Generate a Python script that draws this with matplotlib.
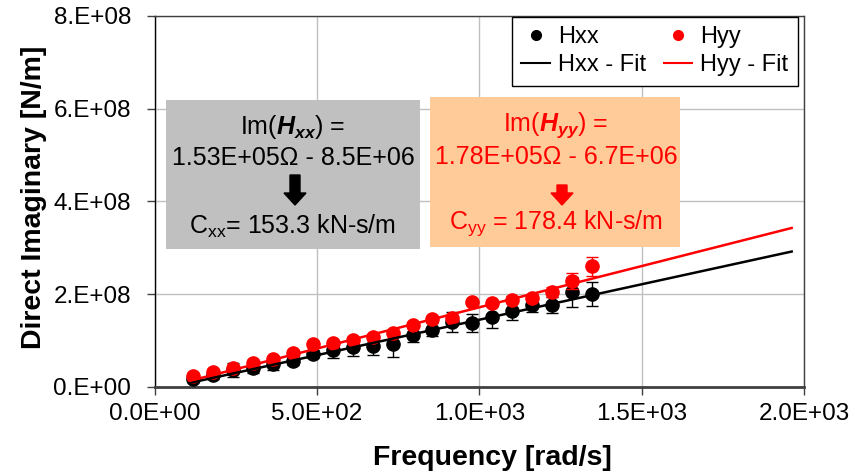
import matplotlib
matplotlib.use('Agg')
import matplotlib.pyplot as plt
from matplotlib.patches import Rectangle, FancyArrow
from matplotlib.ticker import FuncFormatter, MultipleLocator
import numpy as np

plt.rcParams['font.family'] = ['Liberation Sans', 'DejaVu Sans']
plt.rcParams['mathtext.fontset'] = 'custom'
plt.rcParams['mathtext.rm'] = 'Liberation Sans'
plt.rcParams['mathtext.it'] = 'Liberation Sans:italic'
plt.rcParams['mathtext.bf'] = 'Liberation Sans:bold'
plt.rcParams['mathtext.bfit'] = 'Liberation Sans:italic:bold'

# measured frequencies [rad/s]
freq = [120, 181, 243, 304, 365, 427, 488, 549, 611, 672, 733,
        795, 856, 917, 979, 1040, 1101, 1163, 1224, 1285, 1347]

# direct imaginary parts [N/m]
hxx = [1.60e7, 2.52e7, 3.60e7, 4.03e7, 4.90e7, 5.54e7, 7.05e7, 7.92e7, 8.46e7, 8.78e7, 9.21e7,
       1.115e8, 1.234e8, 1.39e8, 1.37e8, 1.51e8, 1.633e8, 1.763e8, 1.763e8, 2.043e8, 2.00e8]
hyy = [2.31e7, 3.24e7, 4.10e7, 5.11e7, 5.98e7, 7.34e7, 9.21e7, 9.49e7, 1.008e8, 1.079e8, 1.165e8,
       1.331e8, 1.471e8, 1.493e8, 1.838e8, 1.81e8, 1.879e8, 1.924e8, 2.043e8, 2.287e8, 2.598e8]

# uncertainty
hxx_err = [0.6e7, 0.8e7, 1.5e7, 1.0e7, 1.3e7, 0.8e7, 0.8e7, 1.7e7, 1.9e7, 1.9e7, 2.8e7,
           1.5e7, 1.5e7, 2.2e7, 1.9e7, 2.4e7, 1.9e7, 1.5e7, 1.7e7, 3.2e7, 2.6e7]
hyy_err = [0.6e7, 0.6e7, 0.6e7, 0.6e7, 0.6e7, 0.6e7, 0.6e7, 0.6e7, 0.6e7, 0.6e7, 0.6e7,
           0.6e7, 0.6e7, 0.6e7, 0.6e7, 0.6e7, 0.8e7, 0.8e7, 1.0e7, 1.7e7, 2.0e7]

# linear fits Im(H) = C*w + b
fit_range = [110, 1962]
cxx, bxx = 1.53e5, -8.5e6
cyy, byy = 1.78e5, -6.7e6

W, H = 855, 476
fig = plt.figure(figsize=(W / 100, H / 100), dpi=100)


def fx(px):
    return px / W


def fy(py):
    return 1 - py / H


ax = fig.add_axes([fx(154.5), fy(386.7), (804 - 154.5) / W, (386.7 - 16) / H])

ax.errorbar(freq, hxx, yerr=hxx_err, fmt='o', color='black', ms=9.5, ecolor='black',
            elinewidth=1, capsize=4, capthick=1, zorder=3)
ax.errorbar(freq, hyy, yerr=hyy_err, fmt='o', color='red', ms=9.5, ecolor='red',
            elinewidth=1, capsize=4, capthick=1, zorder=4)

wf = np.array(fit_range)
ax.plot(wf, cxx * wf + bxx, color='black', lw=1.8, zorder=5)
ax.plot(wf, cyy * wf + byy, color='red', lw=1.8, zorder=5)

ax.set_xlim(0, 2000)
ax.set_ylim(0, 8e8)
ax.xaxis.set_major_locator(MultipleLocator(500))
ax.yaxis.set_major_locator(MultipleLocator(2e8))
ax.xaxis.set_major_formatter(FuncFormatter(lambda v, p: f'{v:.1E}'))
ax.yaxis.set_major_formatter(FuncFormatter(lambda v, p: format(v, '#.0E')))
ax.tick_params(axis='both', direction='out', length=6, width=1, labelsize=17.5, color='#404040')
ax.tick_params(axis='y', pad=11)
ax.tick_params(axis='x', pad=6)
ax.grid(True, color='#c0c0c0', lw=1)
ax.set_axisbelow(True)

ax.spines['left'].set_color('black')
ax.spines['left'].set_linewidth(1)
ax.spines['bottom'].set_color('#404040')
ax.spines['bottom'].set_linewidth(2)
for s in ('top', 'right'):
    ax.spines[s].set_color('#404040')
    ax.spines[s].set_linewidth(1)

ax.set_xlabel('Frequency [rad/s]', fontsize=20.5, fontweight='bold', labelpad=14,
              x=0.521, ha='center')
ax.set_ylabel('Direct Imaginary [N/m]', fontsize=20.5, fontweight='bold', labelpad=4,
              y=0.51, ha='center')

# legend
hx_mark = plt.Line2D([], [], ls='none', marker='o', color='black', ms=7)
hy_mark = plt.Line2D([], [], ls='none', marker='o', color='red', ms=7)
hx_line = plt.Line2D([], [], color='black', lw=1.5)
hy_line = plt.Line2D([], [], color='red', lw=1.5)
leg = ax.legend([hx_mark, hx_line, hy_mark, hy_line],
                ['Hxx', 'Hxx - Fit', 'Hyy', 'Hyy - Fit'],
                ncol=2, loc='upper left', bbox_to_anchor=(fx(512), fy(17)),
                bbox_transform=fig.transFigure, fontsize=17, frameon=True,
                fancybox=False, framealpha=1, edgecolor='black',
                borderpad=0.4, handlelength=1.2, handletextpad=0.35,
                columnspacing=0.75, labelspacing=0.25, borderaxespad=0)
leg.get_frame().set_linewidth(1)

# fit annotation boxes
fig.patches.append(Rectangle((fx(166), fy(249)), (420 - 166) / W, (249 - 100) / H,
                             transform=fig.transFigure, facecolor='#c0c0c0',
                             edgecolor='none', zorder=6))
fig.patches.append(Rectangle((fx(430), fy(247)), (680 - 430) / W, (247 - 97) / H,
                             transform=fig.transFigure, facecolor='#ffcc99',
                             edgecolor='none', zorder=6))

tkw = dict(fontsize=18, ha='center', va='center', zorder=7)
fig.text(fx(293), fy(127), r'Im($\mathbfit{H}_{\mathbfit{xx}}$) =', color='black', **tkw)
fig.text(fx(293), fy(158), '1.53E+05Ω - 8.5E+06', color='black', **tkw)
fig.text(fx(293), fy(226), r'C$_{\mathrm{xx}}$= 153.3 kN-s/m', color='black', **tkw)

fig.text(fx(556), fy(125), r'Im($\mathbfit{H}_{\mathbfit{yy}}$) =', color='red', **tkw)
fig.text(fx(556), fy(157), '1.78E+05Ω - 6.7E+06', color='red', **tkw)
fig.text(fx(556), fy(223), r'C$_{\mathrm{yy}}$ = 178.4 kN-s/m', color='red', **tkw)

for xc, y0, y1, col in [(295, 175, 205, 'black'), (562, 185, 205, 'red')]:
    fig.patches.append(FancyArrow(fx(xc), fy(y0), 0, -(y1 - y0 - 12) / H,
                                  width=10 / W, head_width=22 / W, head_length=12 / H,
                                  length_includes_head=False, transform=fig.transFigure,
                                  color=col, zorder=7))

fig.savefig('out.png', dpi=100)
